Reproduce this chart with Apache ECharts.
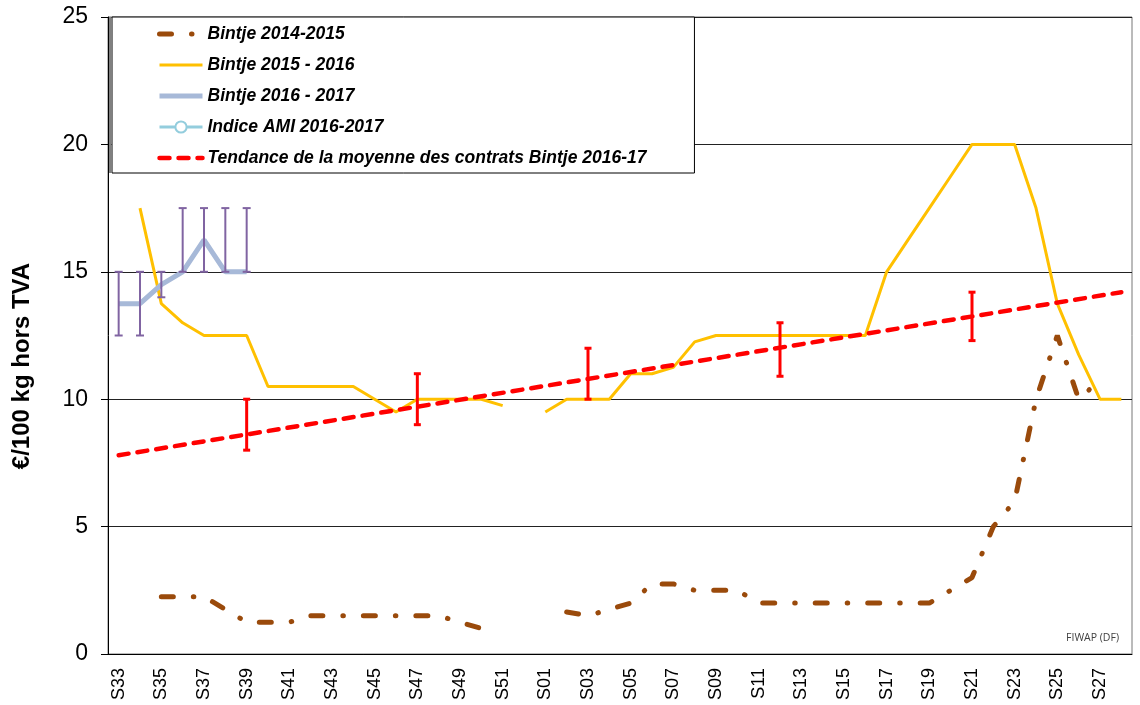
<!DOCTYPE html>
<html>
<head>
<meta charset="utf-8">
<script src="https://cdn.jsdelivr.net/npm/echarts@6/dist/echarts.min.js"></script>
<style>
  html, body { margin: 0; padding: 0; background: #fff; }
  #main { width: 1140px; height: 705px; }
</style>
</head>
<body>
<div id="main"></div>
<script>
// weeks of the season, S33 -> S28
var weeks = ['S33','S34','S35','S36','S37','S38','S39','S40','S41','S42','S43','S44','S45','S46','S47','S48','S49','S50','S51','S52',
             'S01','S02','S03','S04','S05','S06','S07','S08','S09','S10','S11','S12','S13','S14','S15','S16','S17','S18','S19','S20',
             'S21','S22','S23','S24','S25','S26','S27','S28'];

var bintje1415 = [null,null,2.25,2.25,2.25,1.75,1.25,1.25,1.25,1.5,1.5,1.5,1.5,1.5,1.5,1.5,1.25,1.0,null,null,
                  null,1.65,1.5,1.75,2.0,2.75,2.75,2.5,2.5,2.5,2.0,2.0,2.0,2.0,2.0,2.0,2.0,2.0,2.0,2.5,
                  3.0,5.0,6.0,10.0,12.5,10.0,10.75,null];

var bintje1516 = [null,17.5,13.75,13.0,12.5,12.5,12.5,10.5,10.5,10.5,10.5,10.5,10.0,9.5,10.0,10.0,10.0,10.0,9.75,null,
                  9.5,10.0,10.0,10.0,11.0,11.0,11.25,12.25,12.5,12.5,12.5,12.5,12.5,12.5,12.5,12.5,15.0,16.25,17.5,18.75,
                  20.0,20.0,20.0,17.5,13.75,11.75,10.0,10.0];

var bintje1617Weeks = ['S33','S34','S35','S36','S37','S38','S39'];
var bintje1617 = [13.75,13.75,14.5,15.0,16.25,15.0,15.0];
var bintje1617Low = [12.5,12.5,14.0,15.0,15.0,15.0,15.0];
var bintje1617High = [15.0,15.0,15.0,17.5,17.5,17.5,17.5];

var amiWeeks = [];
var amiValues = [];

// trend line end points
var trendWeeks = ['S33','S28'];
var trendValues = [7.8, 14.2];
// contract ranges along the trend
var rangeWeeks = ['S39','S47','S03','S12','S21'];
var rangeLow = [8.0, 9.0, 10.0, 10.9, 12.3];
var rangeHigh = [10.0, 11.0, 12.0, 13.0, 14.2];

function onWeeks(names, values) {
  var out = weeks.map(function () { return null; });
  names.forEach(function (w, i) { out[weeks.indexOf(w)] = values[i]; });
  return out;
}

function errorBars(color, lw, cap) {
  return function (params, api) {
    var x = api.value(0);
    var lo = api.coord([x, api.value(1)]);
    var hi = api.coord([x, api.value(2)]);
    var st = { stroke: color, lineWidth: lw, fill: null };
    return {
      type: 'group',
      children: [
        { type: 'line', shape: { x1: lo[0], y1: lo[1], x2: hi[0], y2: hi[1] }, style: st },
        { type: 'line', shape: { x1: lo[0] - cap, y1: lo[1], x2: lo[0] + cap, y2: lo[1] }, style: st },
        { type: 'line', shape: { x1: hi[0] - cap, y1: hi[1], x2: hi[0] + cap, y2: hi[1] }, style: st }
      ]
    };
  };
}

var font = 'Liberation Sans, Arial, sans-serif';
var brown = '#9A4A0B', yellow = '#FFC000', steel = '#A7B9D8', ami = '#93CDDD', red = '#FF0000';
var noMark = { opacity: 0 };

var chart = echarts.init(document.getElementById('main'));

var option = {
  animation: false,
  backgroundColor: '#fff',
  textStyle: { fontFamily: font },
  grid: { left: 108, right: 8, top: 17, bottom: 51, show: true, borderColor: '#777', borderWidth: 1, outerBoundsMode: 'none' },
  legend: {
    orient: 'vertical',
    left: 112, top: 17,
    padding: [8, 48, 6, 45],
    itemWidth: 43, itemHeight: 14, itemGap: 13,
    backgroundColor: '#fff',
    borderColor: '#000', borderWidth: 1,
    textStyle: { fontFamily: font, fontSize: 17.5, fontWeight: 'bold', fontStyle: 'italic', color: '#000', lineHeight: 18 },
    data: [
      { name: 'Bintje 2014-2015', itemStyle: noMark, lineStyle: { width: 5, type: [12, 20, 0.5, 20], cap: 'round' } },
      { name: 'Bintje 2015 - 2016', itemStyle: noMark, lineStyle: { width: 3 } },
      { name: 'Bintje 2016 - 2017', itemStyle: noMark, lineStyle: { width: 5 } },
      { name: 'Indice AMI 2016-2017', lineStyle: { width: 3 } },
      { name: 'Tendance de la moyenne des contrats Bintje 2016-17', itemStyle: noMark,
        lineStyle: { width: 4.5, type: [10, 9], cap: 'round' } }
    ]
  },
  xAxis: {
    type: 'category',
    data: weeks,
    boundaryGap: true,
    axisLine: { lineStyle: { color: '#000', width: 1 } },
    axisTick: { interval: 0, length: 6, lineStyle: { color: '#000' } },
    axisLabel: { interval: 1, rotate: 90, fontSize: 18, color: '#000', margin: 14, fontFamily: font }
  },
  yAxis: {
    type: 'value',
    min: 0, max: 25, interval: 5,
    axisLine: { show: true, lineStyle: { color: '#000', width: 1 } },
    axisTick: { show: true, length: 7, lineStyle: { color: '#000' } },
    axisLabel: { fontSize: 23, color: '#000', margin: 20, fontFamily: font },
    splitLine: { lineStyle: { color: '#222', width: 1 } }
  },
  graphic: [
    {
      type: 'text', x: 22, y: 366, rotation: Math.PI / 2,
      style: { text: '€/100 kg hors TVA', fontFamily: font, fontSize: 24, fontWeight: 'bold', fill: '#000',
               align: 'center', verticalAlign: 'middle' }
    },
    {
      // grey edge on the left of the legend box
      type: 'rect', left: 109, top: 17, z: 200,
      shape: { width: 2.5, height: 156 },
      style: { fill: '#808080' }
    },
    {
      type: 'text', right: 21, top: 633,
      style: { text: 'FIWAP (DF)', fontFamily: 'Open Sans, sans-serif', fontSize: 10.5, fill: '#404040' }
    }
  ],
  series: [
    {
      name: 'Bintje 2014-2015', type: 'line', data: bintje1415, symbol: 'none', z: 2,
      lineStyle: { color: brown, width: 5, type: [12, 20, 0.5, 20], cap: 'round' },
      itemStyle: { color: brown }
    },
    {
      name: 'Bintje 2015 - 2016', type: 'line', data: bintje1516, symbol: 'none', z: 3,
      lineStyle: { color: yellow, width: 3 },
      itemStyle: { color: yellow }
    },
    {
      name: 'Bintje 2016 - 2017', type: 'line', data: onWeeks(bintje1617Weeks, bintje1617), symbol: 'none', z: 4,
      lineStyle: { color: steel, width: 5 },
      itemStyle: { color: steel }
    },
    {
      name: 'Indice AMI 2016-2017', type: 'line', data: onWeeks(amiWeeks, amiValues), symbol: 'emptyCircle', symbolSize: 8, z: 4,
      lineStyle: { color: ami, width: 3 },
      itemStyle: { color: ami }
    },
    {
      name: 'Tendance de la moyenne des contrats Bintje 2016-17', type: 'line',
      data: onWeeks(trendWeeks, trendValues), connectNulls: true, symbol: 'none', z: 5,
      lineStyle: { color: red, width: 4.5, type: [10, 9], cap: 'round' },
      itemStyle: { color: red }
    },
    {
      name: 'range1617', type: 'custom', z: 6,
      renderItem: errorBars('#8064A2', 2, 4),
      encode: { x: 0, y: [1, 2] },
      data: bintje1617Weeks.map(function (w, i) { return [w, bintje1617Low[i], bintje1617High[i]]; })
    },
    {
      name: 'rangeTrend', type: 'custom', z: 6,
      renderItem: errorBars(red, 3, 3.5),
      encode: { x: 0, y: [1, 2] },
      data: rangeWeeks.map(function (w, i) { return [w, rangeLow[i], rangeHigh[i]]; })
    }
  ]
};

chart.setOption(option);
</script>
</body>
</html>
